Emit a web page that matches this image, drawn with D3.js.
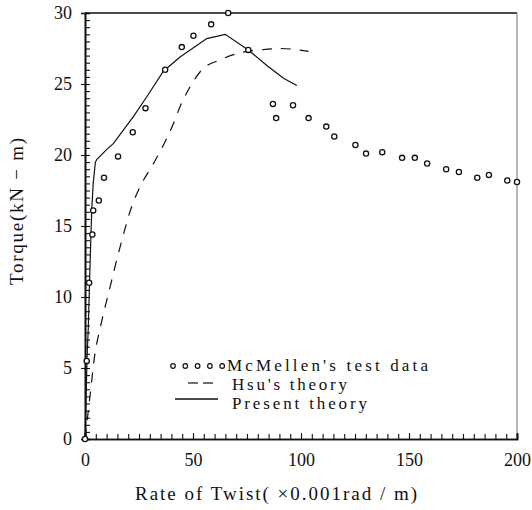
<!DOCTYPE html>
<html>
<head>
<meta charset="utf-8">
<script src="https://cdn.jsdelivr.net/npm/d3@7"></script>
<style>
  html, body { margin: 0; padding: 0; background: #fff; }
  svg { display: block; }
</style>
</head>
<body>
<svg id="chart" width="532" height="510"></svg>
<script>
// ---- data ----
const testX = [0, 0.8, 1.9, 3.4, 3.8, 6.4, 8.8, 15.3, 22.1, 28.0, 37.1, 44.8, 50.2, 58.4, 66.3, 75.6,
  87.0, 88.5, 96.3, 103.5, 111.7, 115.4, 125.2, 130.1, 137.6, 146.8, 152.7, 158.4, 167.2, 173.1,
  181.6, 187.0, 195.5, 200.0];
const testY = [0, 5.5, 11.0, 14.4, 16.1, 16.8, 18.4, 19.9, 21.6, 23.3, 26.0, 27.6, 28.4, 29.2, 30.0, 27.4,
  23.6, 22.6, 23.5, 22.6, 22.0, 21.3, 20.7, 20.1, 20.2, 19.8, 19.8, 19.4, 19.0, 18.8,
  18.4, 18.6, 18.2, 18.1];

const hsuX = [0, 2.3, 4.6, 7.0, 11.6, 16.2, 21.7, 26.3, 31.7, 40.9, 44.0, 47.9, 54.1, 62.6, 71.9, 81.1, 90.4, 103.5];
const hsuY = [0, 3.0, 6.0, 7.8, 10.7, 13.5, 16.4, 18.0, 19.4, 22.2, 23.4, 24.6, 26.0, 26.7, 27.2, 27.4, 27.5, 27.3];

const presentX = [0, 0.5, 1.0, 1.5, 2.3, 2.8, 3.1, 3.8, 4.8, 5.5, 10.1, 13.1, 22.4, 28.6, 36.3, 44.0, 56.4, 64.9, 75.6, 84.2, 91.9, 98.1];
const presentY = [0, 3.0, 6.0, 7.7, 12.1, 14.6, 16.1, 18.0, 19.5, 19.7, 20.4, 20.8, 22.7, 24.1, 25.9, 26.9, 28.2, 28.5, 27.4, 26.3, 25.4, 24.9];

const xMajorTicks = [0, 50, 100, 150, 200];
const yMajorTicks = [0, 5, 10, 15, 20, 25, 30];
const legendLabels = ["McMellen's test data", "Hsu's theory", "Present theory"];
const xTitle = "Rate of Twist( \u00d70.001rad / m)";
const yTitle = "Torque(kN \u2212 m)";

// ---- pick an installed serif font ----
function pickFont(cands) {
  const c = document.createElement("canvas").getContext("2d");
  const sample = "Torque Rate of Twist mmmwwwlliiQ0123456789";
  for (const f of cands) {
    let differs = false;
    for (const base of ["monospace", "sans-serif"]) {
      c.font = `40px ${base}`;
      const w0 = c.measureText(sample).width;
      c.font = `40px "${f}", ${base}`;
      const w1 = c.measureText(sample).width;
      if (Math.abs(w1 - w0) > 0.5) { differs = true; break; }
    }
    // must differ from both fallbacks to be considered present
    c.font = "40px monospace"; const wm = c.measureText(sample).width;
    c.font = `40px "${f}", monospace`; const wf = c.measureText(sample).width;
    if (differs && Math.abs(wf - wm) > 0.5) return `"${f}", serif`;
  }
  return "serif";
}
const FONT = pickFont(["Liberation Serif", "Times New Roman", "Tinos", "DejaVu Serif", "Noto Serif", "FreeSerif", "Nimbus Roman"]);

// ---- drawing ----
const svg = d3.select("#chart");
const x = d3.scaleLinear().domain([0, 200]).range([85, 517]);
const y = d3.scaleLinear().domain([0, 30]).range([439, 13]);

const ink = "#111";

// frame (top and right)
svg.append("line").attr("x1", x(0)).attr("x2", x(200)).attr("y1", y(30)).attr("y2", y(30))
  .attr("stroke", ink).attr("stroke-width", 1.6);
svg.append("line").attr("x1", x(200)).attr("x2", x(200)).attr("y1", y(30)).attr("y2", y(0))
  .attr("stroke", "#888").attr("stroke-width", 1.2);

// bottom axis: minor ticks (inward)
const xMinor = svg.append("g").attr("transform", `translate(0,${y(0)})`)
  .call(d3.axisBottom(x).tickValues(d3.range(0, 201, 5)).tickSize(-5).tickFormat(""));
// bottom axis: labels
const xMajor = svg.append("g").attr("transform", `translate(0,${y(0)})`)
  .call(d3.axisBottom(x).tickValues(xMajorTicks).tickSize(-6).tickPadding(14).tickFormat(d3.format("d")));

// left axis: minor ticks (inward)
const yMinor = svg.append("g").attr("transform", `translate(${x(0)},0)`)
  .call(d3.axisLeft(y).tickValues(d3.range(0, 30.01, 0.5)).tickSize(-5).tickFormat(""));
// left axis: major ticks outward with labels
const yMajor = svg.append("g").attr("transform", `translate(${x(0)},0)`)
  .call(d3.axisLeft(y).tickValues(yMajorTicks).tickSize(4).tickPadding(9).tickFormat(d3.format("d")));

[xMinor, xMajor, yMinor, yMajor].forEach(g => {
  g.attr("font-family", null).attr("font-size", null);
  g.selectAll("path.domain").attr("stroke", ink).attr("stroke-width", 1.6);
  g.selectAll(".tick line").attr("stroke", ink).attr("stroke-width", 1.1);
  g.selectAll(".tick text").attr("fill", ink).style("font-family", FONT).style("font-size", "18px");
});

// curves
const toPts = (xs, ys) => xs.map((v, i) => [v, ys[i]]);
const line = d3.line().x(d => x(d[0])).y(d => y(d[1]));

svg.append("path").datum(toPts(presentX, presentY))
  .attr("d", line).attr("fill", "none").attr("stroke", ink).attr("stroke-width", 1.2);

svg.append("path").datum(toPts(hsuX, hsuY))
  .attr("d", line.curve(d3.curveMonotoneX)).attr("fill", "none").attr("stroke", ink)
  .attr("stroke-width", 1.2).attr("stroke-dasharray", "10,9");

// test data circles
svg.append("g").selectAll("circle").data(toPts(testX, testY)).join("circle")
  .attr("cx", d => x(d[0])).attr("cy", d => y(d[1])).attr("r", 2.6)
  .attr("fill", "#fff").attr("stroke", ink).attr("stroke-width", 1.3);

// legend
const lg = svg.append("g");
d3.range(5).forEach(i => {
  lg.append("circle").attr("cx", 173 + i * 12.3).attr("cy", 366).attr("r", 2.3)
    .attr("fill", "#fff").attr("stroke", ink).attr("stroke-width", 1.2);
});
lg.append("line").attr("x1", 188).attr("x2", 198).attr("y1", 383).attr("y2", 383)
  .attr("stroke", ink).attr("stroke-width", 1.2);
lg.append("line").attr("x1", 203).attr("x2", 213).attr("y1", 383).attr("y2", 383)
  .attr("stroke", ink).attr("stroke-width", 1.2);
lg.append("line").attr("x1", 175).attr("x2", 218).attr("y1", 399).attr("y2", 399)
  .attr("stroke", ink).attr("stroke-width", 1.4);

const legendPos = [[227, 371, 201], [232, 390, 115], [232, 409, 135]];
legendLabels.forEach((t, i) => {
  lg.append("text").attr("x", legendPos[i][0]).attr("y", legendPos[i][1])
    .style("font-family", FONT).style("font-size", "17px").attr("fill", ink)
    .attr("textLength", legendPos[i][2]).attr("lengthAdjust", "spacing")
    .text(t);
});

// axis titles
svg.append("text").attr("x", 135).attr("y", 500)
  .style("font-family", FONT).style("font-size", "19px").attr("fill", ink)
  .attr("textLength", 282).attr("lengthAdjust", "spacing").text(xTitle);

svg.append("text").attr("transform", "translate(23,285) rotate(-90)")
  .attr("x", 0).attr("y", 0)
  .style("font-family", FONT).style("font-size", "19px").attr("fill", ink)
  .attr("textLength", 147).attr("lengthAdjust", "spacing").text(yTitle);
</script>
</body>
</html>
